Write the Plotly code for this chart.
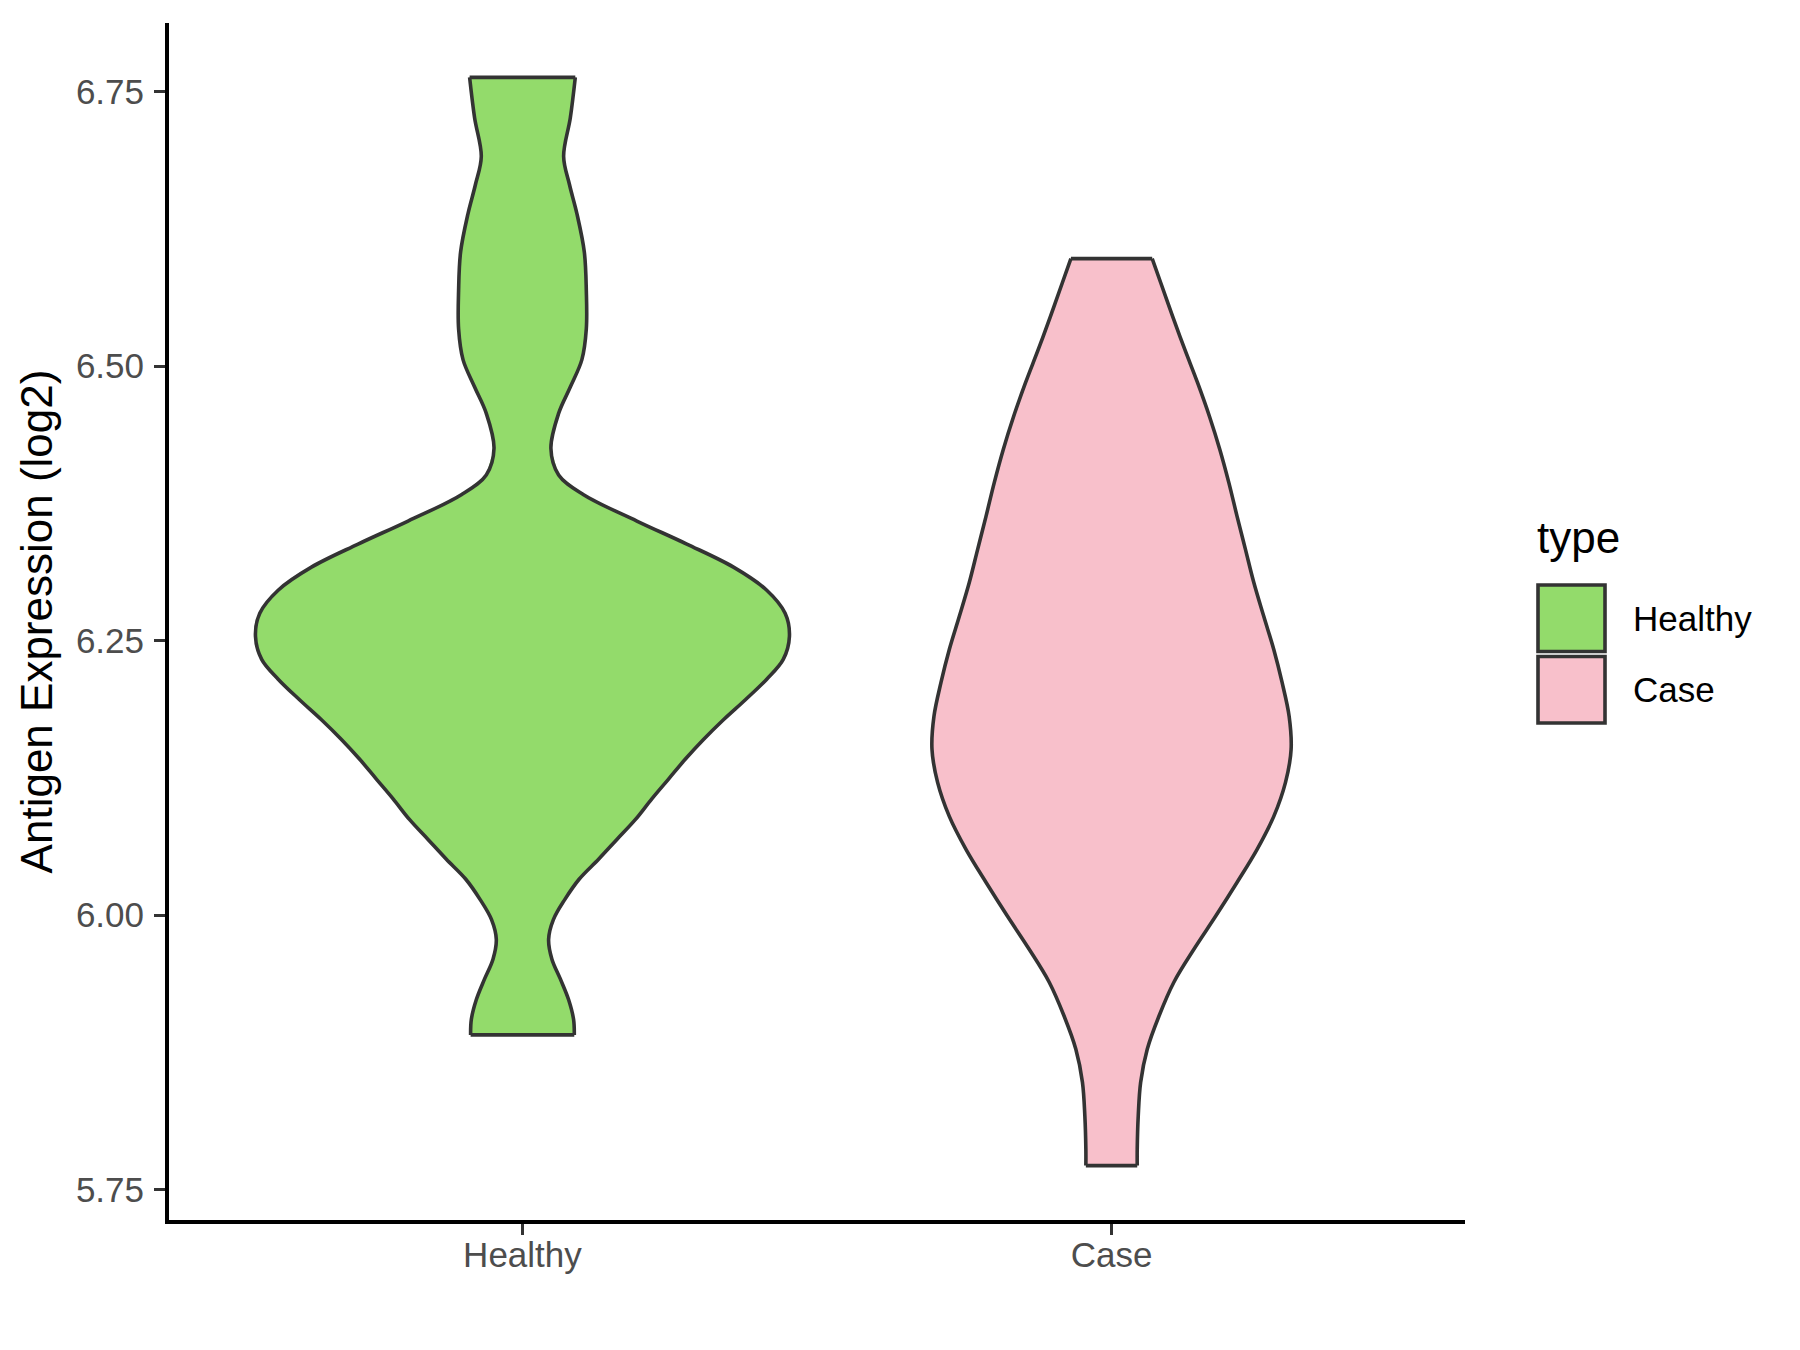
import plotly.graph_objects as go

# ---------------- data ----------------
categories = ["Healthy", "Case"]
legend_title = "type"
y_title = "Antigen Expression (log2)"
y_tick_vals = [5.75, 6.00, 6.25, 6.50, 6.75]
y_tick_text = ["5.75", "6.00", "6.25", "6.50", "6.75"]

# violin profile: expression level and half-width (x-axis units), top -> bottom
healthy_y = [6.763, 6.726, 6.691, 6.665, 6.639, 6.604, 6.569, 6.534, 6.506, 6.481,
             6.457, 6.425, 6.401, 6.383, 6.359, 6.338, 6.317, 6.296, 6.275, 6.254,
             6.233, 6.215, 6.196, 6.178, 6.160, 6.142, 6.124, 6.106, 6.087, 6.069,
             6.051, 6.033, 6.014, 5.996, 5.978, 5.960, 5.942, 5.923, 5.905, 5.891]
healthy_half = [0.0897, 0.0812, 0.0699, 0.0800, 0.0924, 0.1050, 0.1084, 0.1084, 0.1009, 0.0812,
                0.0614, 0.0483, 0.0614, 0.1038, 0.1942, 0.2790, 0.3582, 0.4147, 0.4459, 0.4532,
                0.4427, 0.4147, 0.3780, 0.3412, 0.3073, 0.2763, 0.2480, 0.2196, 0.1915, 0.1603,
                0.1292, 0.0965, 0.0715, 0.0525, 0.0444, 0.0500, 0.0643, 0.0784, 0.0868, 0.0880]

case_y = [6.598, 6.576, 6.545, 6.515, 6.485, 6.454, 6.424, 6.394, 6.363, 6.333,
          6.303, 6.272, 6.242, 6.212, 6.181, 6.151, 6.121, 6.090, 6.060, 6.030,
          5.999, 5.969, 5.939, 5.908, 5.878, 5.848, 5.817, 5.787, 5.772]
case_half = [0.0690, 0.0835, 0.1040, 0.1245, 0.1460, 0.1664, 0.1839, 0.1991, 0.2132, 0.2274,
             0.2415, 0.2585, 0.2754, 0.2895, 0.3015, 0.3048, 0.2953, 0.2754, 0.2471, 0.2132,
             0.1766, 0.1398, 0.1058, 0.0804, 0.0606, 0.0494, 0.0453, 0.0436, 0.0436]

profiles_y = [healthy_y, case_y]
profiles_half = [healthy_half, case_half]

# ---------------- styles ----------------
fill_colors = ["#93DB6B", "#F8C0CB"]
outline = "#333333"
FONT = "Liberation Sans, Arial, sans-serif"
W, H = 1800, 1350
OFF = 8  # page body margin offset
ML, MR, MT, MB = 169 - OFF, 335 + OFF, 23 - OFF, 130 + OFF

fig = go.Figure()

for i, (cat, ys, hw) in enumerate(zip(categories, profiles_y, profiles_half)):
    c = i + 1
    right_x = [c + w for w in hw]
    left_x = [c - w for w in hw]
    px = right_x + left_x[::-1]
    py = ys + ys[::-1]
    fig.add_trace(go.Scatter(x=px, y=py, mode="lines", fill="toself",
                             fillcolor=fill_colors[i], line=dict(width=0, color=fill_colors[i]),
                             hoverinfo="skip", showlegend=False))
    ox = right_x + [None] + left_x + [None] + [left_x[0], right_x[0]] + [None] + [left_x[-1], right_x[-1]]
    oy = ys + [None] + ys + [None] + [ys[0], ys[0]] + [None] + [ys[-1], ys[-1]]
    fig.add_trace(go.Scatter(x=ox, y=oy, mode="lines", connectgaps=False,
                             line=dict(color=outline, width=3.6, shape="spline", smoothing=1.0),
                             hoverinfo="skip", showlegend=False, name=cat))

all_y = healthy_y + case_y
lo, hi = min(all_y), max(all_y)
pad = (hi - lo) * 0.05
yrange = [lo - pad, hi + pad]

fig.update_layout(
    width=W, height=H,
    margin=dict(l=ML, r=MR, t=MT, b=MB),
    paper_bgcolor="white", plot_bgcolor="white",
    showlegend=False,
    font=dict(family=FONT, color="black"),
    xaxis=dict(range=[0.4, 2.6], tickmode="array", tickvals=[1, 2], ticktext=categories,
               showgrid=False, zeroline=False, showline=True, linecolor="black", linewidth=4,
               ticks="outside", ticklen=11, tickwidth=3, tickcolor=outline,
               tickfont=dict(size=35, color="#4D4D4D", family=FONT), ticklabelstandoff=-10),
    yaxis=dict(range=yrange, tickmode="array", tickvals=y_tick_vals, ticktext=y_tick_text,
               showgrid=False, zeroline=False, showline=True, linecolor="black", linewidth=4,
               ticks="outside", ticklen=11, tickwidth=3, tickcolor=outline,
               tickfont=dict(size=35, color="#4D4D4D", family=FONT), ticklabelstandoff=3,
               title=dict(text=y_title, font=dict(size=44, color="black", family=FONT), standoff=10)),
)

# ---------------- legend (drawn manually to match the large keys) ----------------
pw = W - ML - MR
ph = H - MT - MB
def pxx(x):
    return (x - OFF - ML) / pw
def pyy(y):
    return (H - MB - (y - OFF)) / ph

key_x0, key_x1 = 1538, 1605
key_tops = [585, 656.5]
key_h = 66.5
for i, cat in enumerate(categories):
    y0 = key_tops[i]
    fig.add_shape(type="rect", xref="paper", yref="paper",
                  x0=pxx(key_x0), x1=pxx(key_x1), y0=pyy(y0 + key_h), y1=pyy(y0),
                  line=dict(color=outline, width=3.6), fillcolor=fill_colors[i], layer="above")
    fig.add_annotation(xref="paper", yref="paper", x=pxx(1631), y=pyy(y0 + key_h / 2),
                       xanchor="left", yanchor="middle", text=cat, showarrow=False,
                       font=dict(size=35, color="black", family=FONT))
fig.add_annotation(xref="paper", yref="paper", x=pxx(1535), y=pyy(537),
                   xanchor="left", yanchor="middle", text=legend_title, showarrow=False,
                   font=dict(size=44, color="black", family=FONT))

fig.write_html("out.html")
